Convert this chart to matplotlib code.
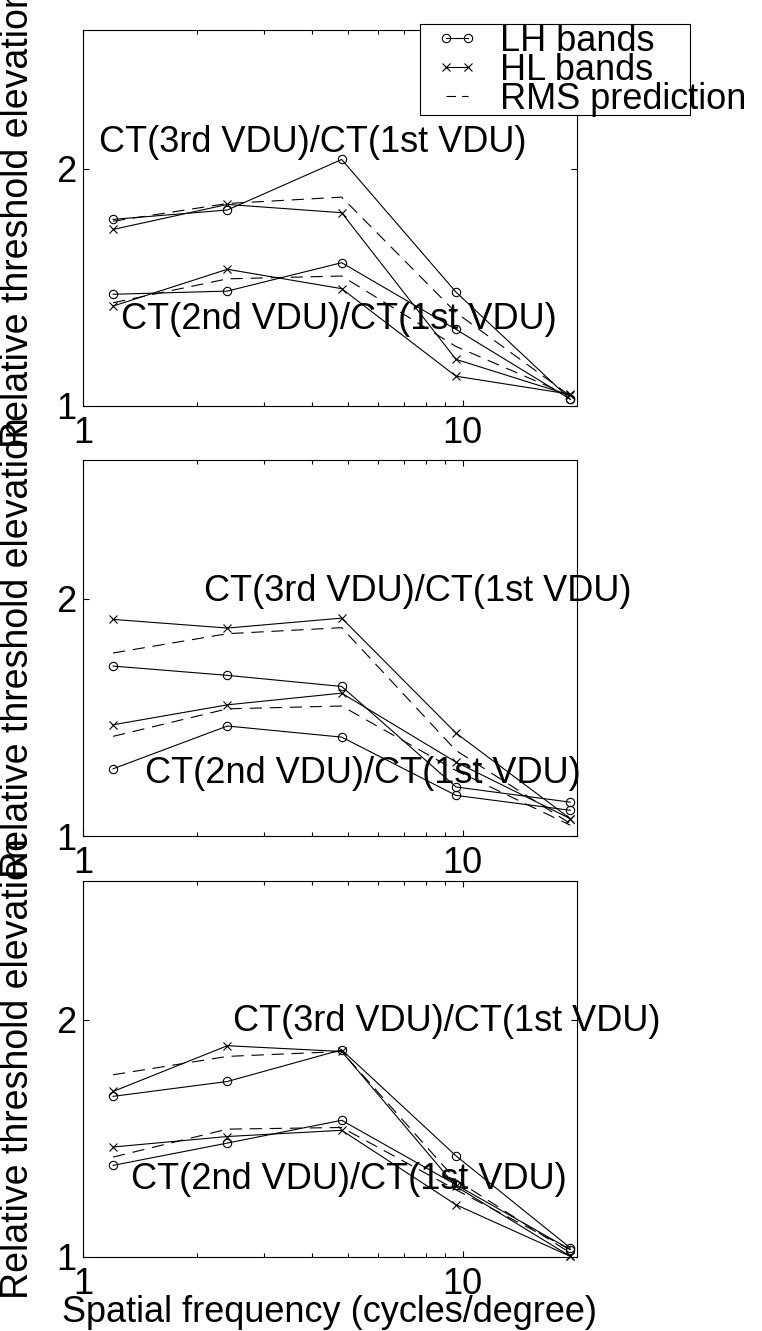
import numpy as np
import matplotlib
matplotlib.use('Agg')
import matplotlib.pyplot as plt
from matplotlib.lines import Line2D
from matplotlib.patches import Rectangle
from matplotlib.ticker import NullFormatter, NullLocator

plt.rcParams['font.family'] = ['Liberation Sans', 'DejaVu Sans']

# spatial frequencies (cycles/degree)
freq = [1.2, 2.4, 4.8, 9.6, 19.2]

# panel 1
p1_lh3 = [1.725, 1.773, 2.055, 1.395, 1.02]
p1_hl3 = [1.675, 1.802, 1.759, 1.146, 1.032]
p1_rms3 = [1.716, 1.807, 1.841, 1.314, 1.03]
p1_lh2 = [1.386, 1.399, 1.52, 1.251, 1.02]
p1_hl2 = [1.339, 1.491, 1.409, 1.091, 1.035]
p1_rms2 = [1.352, 1.45, 1.462, 1.19, 1.03]

# panel 2
p2_lh3 = [1.643, 1.599, 1.548, 1.154, 1.104]
p2_hl3 = [1.883, 1.836, 1.890, 1.351, 1.052]
p2_rms3 = [1.707, 1.806, 1.838, 1.284, 1.037]
p2_lh2 = [1.217, 1.379, 1.335, 1.126, 1.078]
p2_hl2 = [1.384, 1.467, 1.518, 1.241, 1.052]
p2_rms2 = [1.338, 1.45, 1.462, 1.211, 1.032]

# panel 3
p3_lh3 = [1.599, 1.670, 1.832, 1.344, 1.027]
p3_hl3 = [1.622, 1.854, 1.823, 1.229, 1.002]
p3_rms3 = [1.703, 1.797, 1.823, 1.253, 1.012]
p3_lh2 = [1.307, 1.395, 1.491, 1.235, 1.022]
p3_hl2 = [1.379, 1.422, 1.448, 1.165, 1.002]
p3_rms2 = [1.339, 1.453, 1.46, 1.217, 1.022]

label3 = 'CT(3rd VDU)/CT(1st VDU)'
label2 = 'CT(2nd VDU)/CT(1st VDU)'
# where the curve labels sit (x, y) in data units
p1_txt = [(1.10, 2.16), (1.26, 1.288)]
p2_txt = [(2.08, 2.04), (1.46, 1.20)]
p3_txt = [(2.49, 1.99), (1.336, 1.253)]

panels = [
    (p1_lh3, p1_hl3, p1_rms3, p1_lh2, p1_hl2, p1_rms2, p1_txt),
    (p2_lh3, p2_hl3, p2_rms3, p2_lh2, p2_hl2, p2_rms2, p2_txt),
    (p3_lh3, p3_hl3, p3_rms3, p3_lh2, p3_hl2, p3_rms2, p3_txt),
]

W, H = 762, 1331
fig = plt.figure(figsize=(W / 100, H / 100), dpi=100)

# axes boxes in pixels: (left, top, right, bottom)
boxes = [(83, 30, 577, 406), (83, 460, 577, 836), (83, 881, 577, 1257)]

fs = 26
lw = 0.8
for i, (box, pan) in enumerate(zip(boxes, panels)):
    l, t, r, b = box
    ax = fig.add_axes([l / W, 1 - b / H, (r - l) / W, (b - t) / H])
    lh3, hl3, rms3, lh2, hl2, rms2, txt = pan
    for lh, hl, rms in [(lh3, hl3, rms3), (lh2, hl2, rms2)]:
        ax.plot(freq, lh, color='k', marker='o', mfc='none', ms=6, lw=lw,
                mew=0.8, clip_on=False)
        ax.plot(freq, hl, color='k', marker='x', ms=6, lw=lw, mew=0.8,
                clip_on=False)
        ax.plot(freq, rms, color='k', ls='--', dashes=(11, 7), lw=lw,
                clip_on=False)
    ax.text(txt[0][0], txt[0][1], label3, fontsize=fs, va='center', ha='left')
    ax.text(txt[1][0], txt[1][1], label2, fontsize=fs, va='center', ha='left')

    ax.set_xscale('log')
    ax.set_yscale('log')
    ax.set_xlim(1, 20)
    ax.set_ylim(1, 3)
    ax.set_xticks([1, 10], ['1', '10'])
    ax.set_xticks([2, 3, 4, 5, 6, 7, 8, 9], minor=True)
    ax.xaxis.set_minor_formatter(NullFormatter())
    ax.set_yticks([1, 2], ['1', '2'])
    ax.yaxis.set_minor_locator(NullLocator())
    ax.tick_params(which='both', direction='in', top=True, right=True,
                   labelsize=fs, width=0.8)
    ax.tick_params(which='major', length=4.5)
    ax.tick_params(which='minor', length=3)
    ax.tick_params(axis='x', pad=7)
    ax.tick_params(axis='y', pad=5)
    for s in ax.spines.values():
        s.set_linewidth(0.8)
    ax.set_ylabel('Relative threshold elevation', fontsize=27)
    ax.yaxis.set_label_coords(-0.095, 0.5)
    if i == 2:
        ax.set_xlabel('Spatial frequency (cycles/degree)', fontsize=fs,
                      labelpad=-5)

# legend, drawn over the top axes frame
box = Rectangle((420 / W, 1 - 115 / H), 270 / W, 91 / H,
                transform=fig.transFigure, fc='white', ec='k', lw=0.8,
                zorder=2)
fig.add_artist(box)
handles = [
    Line2D([], [], color='k', marker='o', mfc='none', ms=6, lw=lw, mew=0.8),
    Line2D([], [], color='k', marker='x', ms=6, lw=lw, mew=0.8),
    Line2D([], [], color='k', ls='--', dashes=(8.5, 5.5), lw=lw),
]
fig.legend(handles, ['LH bands', 'HL bands', 'RMS prediction'],
           loc='upper left', bbox_to_anchor=(435 / W, 1 - 24 / H),
           frameon=False, fontsize=fs, numpoints=2, handlelength=1.2,
           handletextpad=0.6, labelspacing=-0.17, borderpad=0,
           borderaxespad=0)

fig.savefig('out.png', dpi=100)
